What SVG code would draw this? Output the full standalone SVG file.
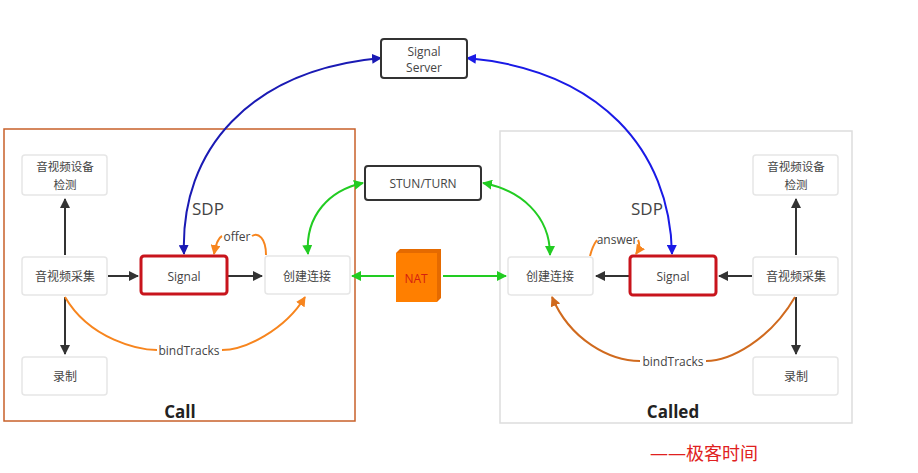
<svg xmlns="http://www.w3.org/2000/svg" width="918" height="473" viewBox="0 0 918 473">
<style>
text{font-family:"Open Sans","Noto Sans CJK SC",sans-serif;font-size:12px;fill:#444;text-anchor:middle;dominant-baseline:central}
.n{fill:#fff;stroke:#e6e6e6;stroke-width:1.5}
.sig{fill:#fff;stroke:#c8141c;stroke-width:3}
.dk{fill:#fff;stroke:#333;stroke-width:2}
.c{fill:none;stroke-width:2}
</style>
<defs>
<marker id="ab" viewBox="0 0 10 10" refX="9" refY="5" markerWidth="5" markerHeight="5" orient="auto-start-reverse"><path d="M0,0L10,5L0,10z" fill="#333"/></marker>
<marker id="bl" viewBox="0 0 10 10" refX="9" refY="5" markerWidth="5" markerHeight="5" orient="auto-start-reverse"><path d="M0,0L10,5L0,10z" fill="#1a1ab4"/></marker>
<marker id="bl2" viewBox="0 0 10 10" refX="9" refY="5" markerWidth="5" markerHeight="5" orient="auto-start-reverse"><path d="M0,0L10,5L0,10z" fill="#1a1ae6"/></marker>
<marker id="gr" viewBox="0 0 10 10" refX="9" refY="5" markerWidth="5" markerHeight="5" orient="auto-start-reverse"><path d="M0,0L10,5L0,10z" fill="#22cc22"/></marker>
<marker id="or" viewBox="0 0 10 10" refX="9" refY="5" markerWidth="5" markerHeight="5" orient="auto-start-reverse"><path d="M0,0L10,5L0,10z" fill="#f7851e"/></marker>
<marker id="or2" viewBox="0 0 10 10" refX="9" refY="5" markerWidth="5" markerHeight="5" orient="auto-start-reverse"><path d="M0,0L10,5L0,10z" fill="#d06a1e"/></marker>
</defs>
<rect width="918" height="473" fill="#fff"/>
<rect id="call-frame" x="4" y="129" width="351" height="292" fill="none" stroke="#c8602a" stroke-width="1.5"/>
<rect id="called-frame" x="500" y="131" width="352" height="292" fill="none" stroke="#dddddd" stroke-width="1.5"/>
<g id="connectors">
<path class="c" stroke="#1a1ab4" d="M381,58 C250,70 180,150 184,254" marker-start="url(#bl)" marker-end="url(#bl)"/>
<path class="c" stroke="#1a1ae6" d="M467,58 C600,70 670,150 672,254" marker-start="url(#bl2)" marker-end="url(#bl2)"/>
<path class="c" stroke="#22cc22" d="M363,183 C330,190 305,215 308,254" marker-start="url(#gr)" marker-end="url(#gr)"/>
<path class="c" stroke="#22cc22" d="M483,183 C520,190 550,215 550,255" marker-start="url(#gr)" marker-end="url(#gr)"/>
<path class="c" stroke="#22cc22" d="M394,276 L352,276" marker-end="url(#gr)"/>
<path class="c" stroke="#22cc22" d="M443,276 L506,276" marker-end="url(#gr)"/>
<path class="c" stroke="#333" d="M65,255 L65,199" marker-end="url(#ab)"/>
<path class="c" stroke="#333" d="M65,297 L65,354" marker-end="url(#ab)"/>
<path class="c" stroke="#333" d="M108,276 L138,276" marker-end="url(#ab)"/>
<path class="c" stroke="#333" d="M228,276 L262,276" marker-end="url(#ab)"/>
<path class="c" stroke="#333" d="M796,255 L796,199" marker-end="url(#ab)"/>
<path class="c" stroke="#333" d="M796,297 L796,354" marker-end="url(#ab)"/>
<path class="c" stroke="#333" d="M752,276 L719,276" marker-end="url(#ab)"/>
<path class="c" stroke="#333" d="M629,276 L596,276" marker-end="url(#ab)"/>
<path class="c" stroke="#f7851e" d="M266,255 C266,238 258,232 252,236 M222,236 C218,238 216,243 214,254" marker-end="url(#or)"/>
<path class="c" stroke="#f7851e" d="M65,297 C90,340 140,350 157,350 M222,350 C245,350 285,330 305,297" marker-end="url(#or)"/>
<path class="c" stroke="#f7851e" d="M590,256 C592,248 594,244 597,240 M638,240 C640,244 640,248 636,254" marker-end="url(#or)"/>
<path class="c" stroke="#d06a1e" d="M795,297 C770,340 730,361 706,361 M640,361 C610,361 570,340 552,297" marker-end="url(#or2)"/>
</g>
<text x="237" y="236">offer</text>
<text x="189" y="350">bindTracks</text>
<text x="617" y="239">answer</text>
<text x="673" y="361">bindTracks</text>
<text x="208" y="208" style="font-size:17px">SDP</text>
<text x="647" y="208" style="font-size:17px">SDP</text>
<g id="signal-server"><rect class="dk" x="381" y="39" width="86" height="39" rx="3"/><text x="424" y="51">Signal</text><text x="424" y="67">Server</text></g>
<g id="stun"><rect class="dk" x="365" y="166" width="116" height="34" rx="3"/><text x="423" y="183">STUN/TURN</text></g>
<g id="nat"><path d="M396,253 L400,249 L441,249 L441,298 L437,302 L437,253z" fill="#e56a00"/><rect x="396" y="253" width="41" height="49" fill="#ff7f00"/><text x="416" y="278" style="fill:#d42010">NAT</text></g>
<g id="l-detect"><rect class="n" x="22" y="155" width="85" height="40" rx="3"/><text x="65" y="166" style="font-size:11.5px">音视频设备</text><text x="65" y="184" style="font-size:11.5px">检测</text></g>
<g id="l-capture"><rect class="n" x="22" y="257" width="85" height="38" rx="3"/><text x="65" y="276">音视频采集</text></g>
<g id="l-signal"><rect class="sig" x="141" y="256" width="86" height="38" rx="3"/><text x="184" y="276">Signal</text></g>
<g id="l-conn"><rect class="n" x="265" y="256" width="85" height="38" rx="3"/><text x="307" y="276">创建连接</text></g>
<g id="l-rec"><rect class="n" x="22" y="357" width="85" height="38" rx="3"/><text x="65" y="376">录制</text></g>
<g id="r-conn"><rect class="n" x="508" y="257" width="85" height="38" rx="3"/><text x="550" y="276">创建连接</text></g>
<g id="r-signal"><rect class="sig" x="630" y="256" width="86" height="39" rx="3"/><text x="673" y="276">Signal</text></g>
<g id="r-capture"><rect class="n" x="753" y="257" width="85" height="38" rx="3"/><text x="796" y="276">音视频采集</text></g>
<g id="r-detect"><rect class="n" x="753" y="155" width="85" height="40" rx="3"/><text x="796" y="166" style="font-size:11.5px">音视频设备</text><text x="796" y="184" style="font-size:11.5px">检测</text></g>
<g id="r-rec"><rect class="n" x="753" y="357" width="85" height="38" rx="3"/><text x="796" y="376">录制</text></g>
<text x="180" y="411" style="font-size:17px;font-weight:bold;fill:#222">Call</text>
<text x="673" y="411" style="font-size:17px;font-weight:bold;fill:#222">Called</text>
<text x="704" y="453" style="font-size:18px;fill:#e02020">——极客时间</text>
</svg>
